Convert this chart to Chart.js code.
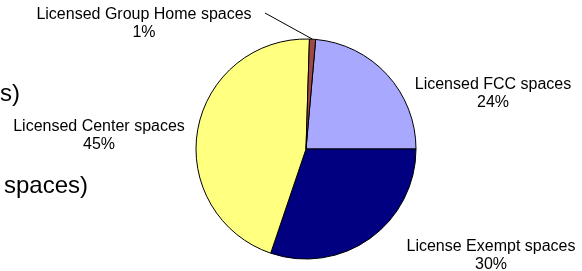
<!DOCTYPE html>
<html lang="en">
<head>
  <meta charset="UTF-8">
  <title>Spaces by type</title>
  <script src="https://cdn.jsdelivr.net/npm/chart.js"></script>
  <style>
    html, body { margin: 0; padding: 0; background: #fff; }
    #wrap { position: relative; width: 582px; height: 271px; }
  </style>
</head>
<body>
  <div id="wrap"><canvas id="pie" width="582" height="271"></canvas></div>

  <script>
    // data
    const categories = ['Licensed FCC spaces', 'License Exempt spaces', 'Licensed Center spaces', 'Licensed Group Home spaces'];
    const shares = [23.6, 30.2, 45.3, 0.9];
    const colors = ['#A8A8FF', '#000080', '#FFFF80', '#A04A48'];

    // where each label sits (text centre of first line)
    const labelPos = [
      { x: 493, y: 85 },
      { x: 491, y: 247 },
      { x: 99, y: 127 },
      { x: 144, y: 15 }
    ];
    // cut-off text on the left edge
    const leftText = [
      { text: 's)', right: 20, y: 101 },
      { text: 'spaces)', right: 88, y: 193 }
    ];

    const total = shares.reduce((a, b) => a + b, 0);

    const labelsPlugin = {
      id: 'sliceLabels',
      afterDraw(chart) {
        const ctx = chart.ctx;
        const arcs = chart.getDatasetMeta(0).data;
        ctx.save();

        // leader line for the tiny slice
        const small = arcs[3];
        const mid = (small.startAngle + small.endAngle) / 2;
        ctx.strokeStyle = '#000';
        ctx.lineWidth = 1;
        ctx.beginPath();
        ctx.moveTo(265, 13);
        ctx.lineTo(small.x + Math.cos(mid) * small.outerRadius, small.y + Math.sin(mid) * small.outerRadius);
        ctx.stroke();

        ctx.fillStyle = '#000';
        ctx.font = '16px "Liberation Sans", Arial, sans-serif';
        ctx.textAlign = 'center';
        ctx.textBaseline = 'middle';
        categories.forEach((c, i) => {
          const p = labelPos[i];
          ctx.fillText(c, p.x, p.y);
          ctx.fillText(Math.round(shares[i] / total * 100) + '%', p.x, p.y + 18);
        });

        ctx.font = '24px "Liberation Sans", Arial, sans-serif';
        ctx.textAlign = 'right';
        ctx.textBaseline = 'alphabetic';
        leftText.forEach(t => ctx.fillText(t.text, t.right, t.y));
        ctx.restore();
      }
    };

    new Chart(document.getElementById('pie'), {
      type: 'pie',
      data: {
        labels: categories,
        datasets: [{
          data: shares,
          backgroundColor: colors,
          borderColor: '#000',
          borderWidth: 1,
          hoverOffset: 0,
          radius: 110
        }]
      },
      options: {
        responsive: false,
        animation: false,
        rotation: 5.04,
        layout: { padding: { left: 196, right: 166, top: 39, bottom: 12 } },
        plugins: {
          legend: { display: false },
          tooltip: { enabled: false }
        }
      },
      plugins: [labelsPlugin]
    });
  </script>
</body>
</html>
